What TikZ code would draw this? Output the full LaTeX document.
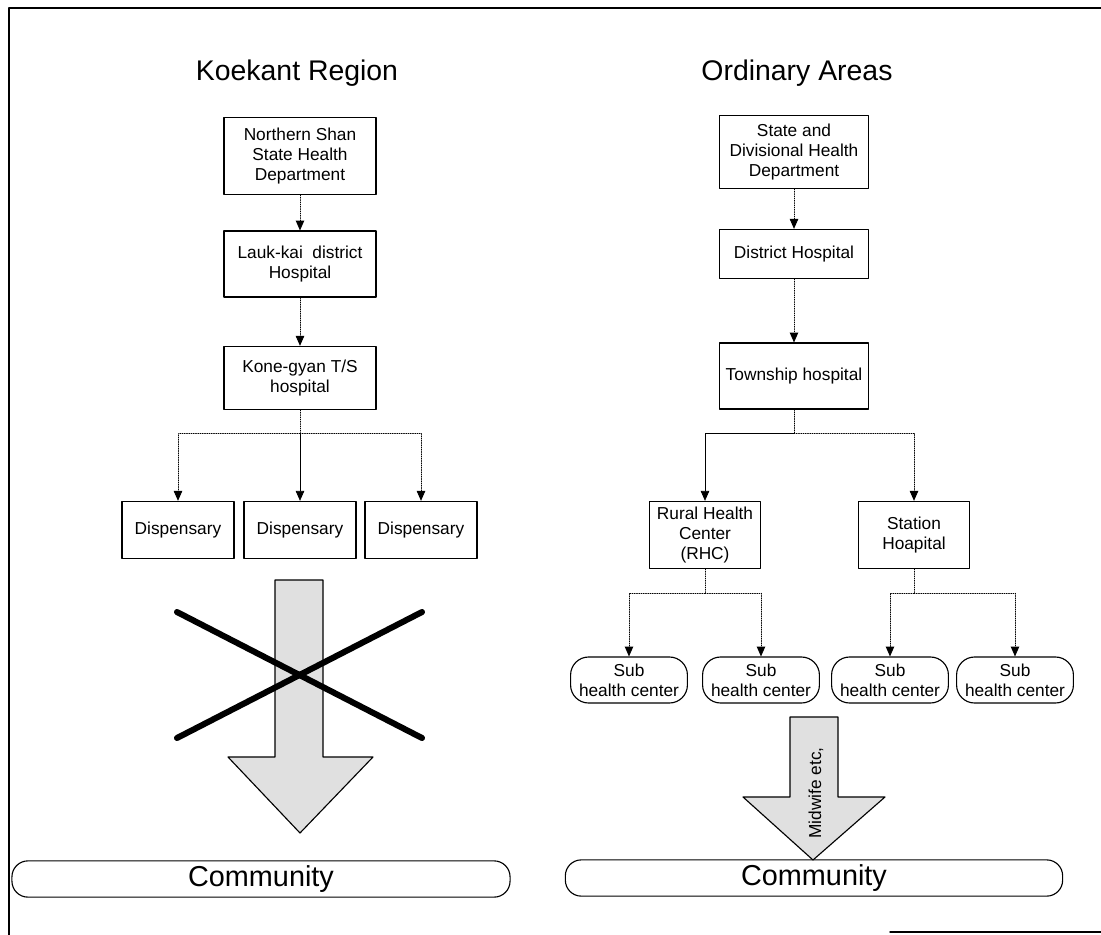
\documentclass[tikz,border=0pt]{standalone}
\usepackage{fontspec}
\setmainfont{Liberation Sans}
\usetikzlibrary{arrows.meta}

\begin{document}
\begin{tikzpicture}[line cap=round,line join=round,>={Triangle[length=7pt,width=6pt]},x=0.025cm,y=-0.025cm,
    box/.style={rectangle, draw, line width=0.8pt, align=center, inner sep=1pt, font=\fontsize{12.3}{14.2}\selectfont},
    sub/.style={box, rounded corners=0.45cm, minimum width=2.92cm, minimum height=1.15cm},
    comm/.style={draw, line width=0.8pt, rounded corners=0.4cm, minimum height=0.8cm, font=\fontsize{20.5}{24}\selectfont},
    title/.style={font=\fontsize{20.2}{24}\selectfont},
    link/.style={densely dotted, line width=0.6pt},
    bigarrow/.style={draw, line width=0.8pt, fill=black!12}]
                    \useasboundingbox (0,0) rectangle (1101,935);
                    \draw [line width=2pt] (9,935) -- (9,8) -- (1101,8);
                    \draw [line width=1pt] (890,932) -- (1101,932);

                    % Koekant side
                    \node[title] (ktitle) at (297,73) {Koekant Region};
                    \node[box, minimum width=3.8cm, minimum height=1.93cm] (nshan) at (300,156) {Northern Shan\\State Health\\Department};
                    \node[box, minimum width=3.8cm, minimum height=1.65cm] (laukkai) at (300,264) {Lauk-kai\ \ district\\Hospital};
                    \node[box, minimum width=3.8cm, minimum height=1.58cm] (konegyan) at (300,378) {Kone-gyan T/S\\hospital};
                    \coordinate (kbranch) at (300,433);
                    \node[box, minimum width=2.8cm, minimum height=1.43cm] (disp1) at (178,530) {Dispensary};
                    \node[box, minimum width=2.8cm, minimum height=1.43cm] (disp2) at (300,530) {Dispensary};
                    \node[box, minimum width=2.8cm, minimum height=1.43cm] (disp3) at (421,530) {Dispensary};

                    \draw [link,->] (nshan) -- (laukkai);
                    \draw [link,->] (laukkai) -- (konegyan);
                    \draw [link] (konegyan) -- (kbranch);
                    \draw [link,->] (kbranch) -| (disp1);
                    \draw [line width=0.5pt,->] (kbranch) -- (disp2);
                    \draw [link,->] (kbranch) -| (disp3);

                    \draw [bigarrow] (275,580) -- (323,580) -- (323,757) -- (373,757) -- (300,833) -- (228,757) -- (275,757) -- cycle;
                    \draw [line width=4.3pt] (177,612) -- (422,738);
                    \draw [line width=4.3pt] (177,738) -- (422,612);

                    \node[comm, minimum width=12.45cm] (kcomm) at (261,879) {Community};

                    % Ordinary side
                    \node[title] (otitle) at (797,73) {Ordinary Areas};
                    \node[box, minimum width=3.72cm, minimum height=1.83cm] (statedept) at (794,152) {State and\\Divisional Health\\Department};
                    \node[box, minimum width=3.72cm, minimum height=1.23cm] (disthosp) at (794,254) {District Hospital};
                    \node[box, minimum width=3.72cm, minimum height=1.65cm] (township) at (794,376) {Township hospital};
                    \coordinate (obranch) at (794,433);
                    \node[box, minimum width=2.78cm, minimum height=1.68cm] (rhc) at (705,535) {Rural Health\\Center\\(RHC)};
                    \node[box, minimum width=2.78cm, minimum height=1.68cm] (station) at (914,535) {Station\\Hoapital};
                    \coordinate (rhcbranch) at (705,593);
                    \coordinate (stbranch) at (914,593);
                    \node[sub] (sub1) at (629,680) {Sub\\health center};
                    \node[sub] (sub2) at (761,680) {Sub\\health center};
                    \node[sub] (sub3) at (890,680) {Sub\\health center};
                    \node[sub] (sub4) at (1015,680) {Sub\\health center};

                    \draw [link,->] (statedept) -- (disthosp);
                    \draw [link,->] (disthosp) -- (township);
                    \draw [link] (township) -- (obranch);
                    \draw [line width=0.5pt,->] (obranch) -| (rhc);
                    \draw [link,->] (obranch) -| (station);
                    \draw [link] (rhc) -- (rhcbranch);
                    \draw [link,->] (rhcbranch) -| (sub1);
                    \draw [link,->] (rhcbranch) -| (sub2);
                    \draw [link] (station) -- (stbranch);
                    \draw [link,->] (stbranch) -| (sub3);
                    \draw [link,->] (stbranch) -| (sub4);

                    \draw [bigarrow] (790,717) -- (838,717) -- (838,797) -- (885,797) -- (813,860) -- (743,797) -- (790,797) -- cycle;
                    \node[rotate=90, font=\fontsize{12.3}{14.2}\selectfont] (midwife) at (816,793) {Midwife etc,};

                    \node[comm, minimum width=12.43cm] (ocomm) at (814,878) {Community};
                \end{tikzpicture}
\end{document}
